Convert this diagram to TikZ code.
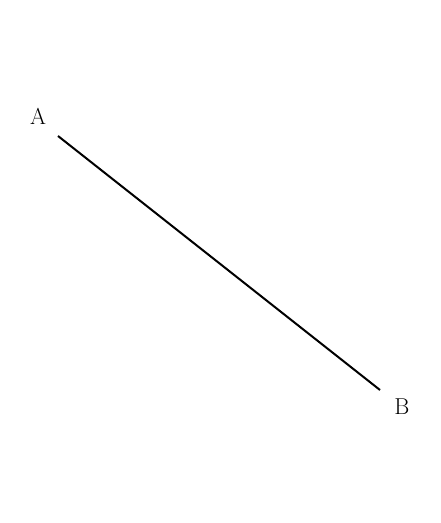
\documentclass[tikz,border=0pt]{standalone}
\begin{document}
\begin{tikzpicture}[x=1pt,y=1pt,
  lbl/.style={font=\fontsize{23}{27}\selectfont, inner sep=0pt},
  seg/.style={line width=2pt, black}]
\useasboundingbox (0,0) rectangle (440,523);
\node[lbl] (la) at (38,407) {A};
\node[lbl] (lb) at (402,116) {B};
\coordinate (A) at (58,387);
\coordinate (B) at (380,133);
\draw[seg] (A) -- (B);
\end{tikzpicture}
\end{document}
